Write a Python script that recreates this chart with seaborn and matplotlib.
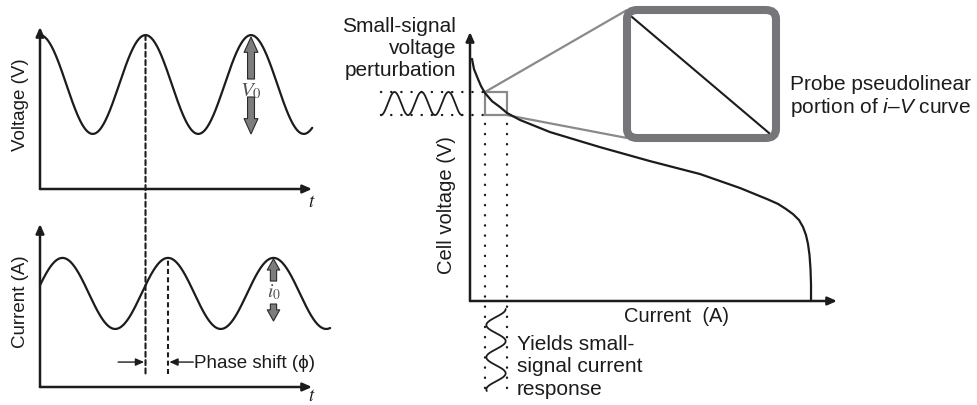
import numpy as np
import matplotlib
matplotlib.use("Agg")
import matplotlib.pyplot as plt
import seaborn as sns
from matplotlib.patches import Rectangle, FancyBboxPatch, ConnectionPatch

# ---------------- data (arbitrary units) ----------------
# Left panels: sinusoidal voltage perturbation and current response
cycle_period = 1.0                 # one cycle of the perturbation
voltage_time_span = [0.0, 2.58]
current_time_span = [0.0, 2.75]
voltage_offset = 0.645
voltage_amplitude = 0.305          # V0
current_offset = 0.574
current_amplitude = 0.218          # i0
phase_shift_cycles = 0.213         # current lags voltage
marked_cycle = 1.0                 # voltage peak used for the phase-shift marker
amplitude_cycle = 2.0              # peak where V0 / i0 arrows are drawn

# Right panel: polarisation (i-V) curve
iv_current = [0.0054, 0.0109, 0.0218, 0.0300, 0.0409, 0.0599, 0.0817, 0.1008,
              0.1362, 0.2180, 0.3542, 0.4905, 0.6267, 0.7357, 0.8093, 0.8392,
              0.8610, 0.8801, 0.8965, 0.9074, 0.9155, 0.9210, 0.9251, 0.9278,
              0.9292, 0.9292]
iv_voltage = [0.900, 0.862, 0.825, 0.799, 0.773, 0.743, 0.721, 0.699,
              0.673, 0.628, 0.572, 0.520, 0.472, 0.420, 0.379, 0.361,
              0.342, 0.323, 0.301, 0.275, 0.245, 0.212, 0.171, 0.119,
              0.063, 0.000]
probe_current = [0.0409, 0.1008]   # probed window (current)
probe_voltage = [0.691, 0.777]     # probed window (voltage)
perturb_cycles = 3
response_cycles = 2.55

# ---------------- layout ----------------
W, H, DPI = 977, 406, 100
INK = "#1c1c1c"
GRAY = "#8a8a8c"
BOXGRAY = "#76767a"

sns.set_theme(style="white")
plt.rcParams["font.family"] = ["Liberation Sans", "DejaVu Sans"]
plt.rcParams["mathtext.fontset"] = "custom"
plt.rcParams["mathtext.rm"] = "Liberation Sans"
plt.rcParams["mathtext.it"] = "Liberation Sans:italic"
plt.rcParams["mathtext.bf"] = "Liberation Sans:bold"
plt.rcParams["text.color"] = INK

fig = plt.figure(figsize=(W / DPI, H / DPI), dpi=DPI)
fig.patch.set_facecolor("white")


def pbox(x0, y0, x1, y1):
    return [x0 / W, 1 - y1 / H, (x1 - x0) / W, (y1 - y0) / H]


def fx(px):
    return px / W


def fy(py):
    return 1 - py / H


axV = fig.add_axes(pbox(40, 28, 312, 190))
axI = fig.add_axes(pbox(40, 225, 312, 388))
axC = fig.add_axes(pbox(470, 33, 837, 302))
axZ = fig.add_axes(pbox(627, 11, 776, 139))

T_AXIS = 2.578


def axis_arrows(ax):
    kw = dict(arrowstyle="-|>,head_length=0.45,head_width=0.2", color=INK,
              lw=1.8, shrinkA=0, shrinkB=0, mutation_scale=12)
    ax.annotate("", xy=(0, 1), xytext=(0, 0), xycoords="axes fraction",
                textcoords="axes fraction", arrowprops=kw)
    ax.annotate("", xy=(1, 0), xytext=(0, 0), xycoords="axes fraction",
                textcoords="axes fraction", arrowprops=kw)


# ---- voltage panel ----
t_v = np.linspace(voltage_time_span[0], voltage_time_span[1], 600)
v = voltage_offset + voltage_amplitude * np.cos(2 * np.pi * t_v / cycle_period)
sns.lineplot(x=t_v, y=v, ax=axV, color=INK, lw=1.6, estimator=None, sort=False,
             clip_on=False)
axV.set_xlim(0, T_AXIS)
axV.set_ylim(0, 1)
axV.axis("off")
axis_arrows(axV)

# ---- current panel ----
t_i = np.linspace(current_time_span[0], current_time_span[1], 600)
i = current_offset + current_amplitude * np.cos(
    2 * np.pi * (t_i / cycle_period - phase_shift_cycles))
sns.lineplot(x=t_i, y=i, ax=axI, color=INK, lw=1.6, estimator=None, sort=False,
             clip_on=False)
axI.set_xlim(0, T_AXIS)
axI.set_ylim(0, 1)
axI.axis("off")
axis_arrows(axI)

# phase-shift marker lines
v_peak = voltage_offset + voltage_amplitude
i_peak = current_offset + current_amplitude
v_trough = voltage_offset - voltage_amplitude
DASH = (0, (2.4, 1.6))
y_dash_end = 0.08
con = ConnectionPatch(xyA=(marked_cycle, v_peak), coordsA=axV.transData,
                      xyB=(marked_cycle, y_dash_end), coordsB=axI.transData,
                      color=INK, lw=1.5, linestyle=DASH)
fig.add_artist(con)
t_ipeak = marked_cycle + phase_shift_cycles
axI.vlines(t_ipeak, y_dash_end, i_peak, colors=INK, lw=1.5, linestyles=[DASH])

y_ph = 0.153
small_arrow = dict(arrowstyle="-|>,head_length=0.5,head_width=0.22", color=INK,
                   lw=1.0, shrinkA=0, shrinkB=1, mutation_scale=10)
axI.annotate("", xy=(marked_cycle, y_ph), xytext=(marked_cycle - 0.26, y_ph),
             arrowprops=small_arrow)
axI.annotate("", xy=(t_ipeak, y_ph), xytext=(t_ipeak + 0.24, y_ph),
             arrowprops=small_arrow)
axI.text(t_ipeak + 0.245, y_ph, "Phase shift (ϕ)", ha="left", va="center",
         fontsize=13.5, family=["Liberation Sans", "DejaVu Sans"])

# amplitude arrows
big_arrow = dict(arrowstyle="simple,head_length=1.1,head_width=1.0,tail_width=0.5",
                 fc="#7d7d7d", ec="#2a2a2a", lw=0.8, shrinkA=0, shrinkB=0,
                 mutation_scale=10)
axV.annotate("", xy=(amplitude_cycle, v_peak - 0.012),
             xytext=(amplitude_cycle, 0.679), arrowprops=big_arrow)
axV.annotate("", xy=(amplitude_cycle, v_trough),
             xytext=(amplitude_cycle, 0.568), arrowprops=big_arrow)
axV.text(amplitude_cycle, 0.612, r"$V_0$", math_fontfamily="stix", ha="center",
         va="center", fontsize=15, color="#505050")

mid_arrow = dict(arrowstyle="simple,head_length=0.8,head_width=0.9,tail_width=0.45",
                 fc="#7d7d7d", ec="#2a2a2a", lw=0.8, shrinkA=0, shrinkB=0,
                 mutation_scale=10)
t_i0 = amplitude_cycle + phase_shift_cycles
axI.annotate("", xy=(t_i0, i_peak - 0.006), xytext=(t_i0, 0.65),
             arrowprops=mid_arrow)
axI.annotate("", xy=(t_i0, 0.405), xytext=(t_i0, 0.509), arrowprops=mid_arrow)
axI.text(t_i0, 0.585, r"$i_0$", math_fontfamily="stix", ha="center",
         va="center", fontsize=14, color="#505050")

# left labels
fig.text(fx(21), fy(105), "Voltage (V)", rotation=90, ha="center", va="center",
         fontsize=13.5)
fig.text(fx(21), fy(302), "Current (A)", rotation=90, ha="center", va="center",
         fontsize=13.5)
fig.text(fx(312), fy(203), r"$t$", math_fontfamily="stix", ha="center",
         va="center", fontsize=13.5)
fig.text(fx(312), fy(397), r"$t$", math_fontfamily="stix", ha="center",
         va="center", fontsize=13.5)

# ---- i-V panel ----
sns.lineplot(x=iv_current, y=iv_voltage, ax=axC, color=INK, lw=1.6,
             estimator=None, sort=False)
axC.set_xlim(0, 1)
axC.set_ylim(0, 1)
axC.axis("off")
axis_arrows(axC)

DOT = (0, (0.1, 4.2))
pert_x0, pert_x1 = -0.2425, -0.0218
axC.hlines(probe_voltage, pert_x0, probe_current[0], colors=INK, lw=1.7,
           linestyles=[DOT], clip_on=False, capstyle="round")
resp_y0, resp_y1 = -0.0297, -0.3346
axC.vlines(probe_current, resp_y1 + 0.01, probe_voltage[0], colors=INK, lw=1.7,
           linestyles=[DOT], clip_on=False, capstyle="round")
axC.add_patch(Rectangle((probe_current[0], probe_voltage[0]),
                        probe_current[1] - probe_current[0],
                        probe_voltage[1] - probe_voltage[0],
                        fill=False, ec=GRAY, lw=1.6, clip_on=False))

# perturbation sketch (3 cycles between the window voltages)
v_mid = (probe_voltage[0] + probe_voltage[1]) / 2
v_half = (probe_voltage[1] - probe_voltage[0]) / 2
xp = np.linspace(pert_x0, pert_x1, 300)
yp = v_mid - v_half * np.cos(2 * np.pi * perturb_cycles * (xp - pert_x0) / (pert_x1 - pert_x0))
sns.lineplot(x=xp, y=yp, ax=axC, color=INK, lw=1.3, estimator=None, sort=False,
             clip_on=False)

# current response sketch
c_mid = (probe_current[0] + probe_current[1]) / 2
c_half = (probe_current[1] - probe_current[0]) / 2 * 0.88
yr = np.linspace(resp_y0, resp_y1, 300)
xr = c_mid + c_half * np.cos(2 * np.pi * response_cycles * (yr - resp_y0) / (resp_y1 - resp_y0))
sns.lineplot(x=xr, y=yr, ax=axC, color=INK, lw=1.3, estimator=None, sort=False,
             clip_on=False)

# connectors to magnified box
for a, b in [((probe_current[0], probe_voltage[1]), (0, 1)),
             ((probe_current[1], probe_voltage[0]), (0, 0))]:
    cp = ConnectionPatch(xyA=a, coordsA=axC.transData, xyB=b,
                         coordsB=axZ.transAxes, color=GRAY, lw=1.6)
    axC.add_artist(cp)

# ---- magnified box ----
axZ.add_patch(FancyBboxPatch((0, 0), 1, 1, boxstyle="round,pad=0,rounding_size=0.07",
                             transform=axZ.transAxes, fc="white", ec=BOXGRAY,
                             lw=5.8, clip_on=False, zorder=0))
ivc = np.array(iv_current)
ivv = np.array(iv_voltage)
inside = (ivc >= probe_current[0] - 1e-9) & (ivc <= probe_current[1] + 1e-9)
seg_c = [ivc[inside][0], ivc[inside][-1]]
seg_v = [ivv[inside][0], ivv[inside][-1]]
sns.lineplot(x=seg_c, y=seg_v, ax=axZ, color=INK, lw=1.5, estimator=None,
             sort=False)
xr_ = (seg_c[1] - seg_c[0]) / 0.919
yr_ = (seg_v[0] - seg_v[1]) / 0.906
axZ.set_xlim(seg_c[0] - 0.034 * xr_, seg_c[0] - 0.034 * xr_ + xr_)
axZ.set_ylim(seg_v[1] - 0.039 * yr_, seg_v[1] - 0.039 * yr_ + yr_)
axZ.axis("off")

# right texts
fig.text(fx(456), fy(49), "Small-signal\nvoltage\nperturbation", ha="right",
         va="center", multialignment="right", fontsize=15, linespacing=1.2)
fig.text(fx(790), fy(97), "Probe pseudolinear\nportion of $i$–$V$ curve",
         ha="left", va="center", fontsize=15, linespacing=1.12)
fig.text(fx(677), fy(317), "Current  (A)", ha="center", va="center", fontsize=14.5)
fig.text(fx(447), fy(205), "Cell voltage (V)", rotation=90, ha="center",
         va="center", fontsize=14.5)
fig.text(fx(517), fy(367), "Yields small-\nsignal current\nresponse", ha="left",
         va="center", fontsize=15, linespacing=1.25)

fig.savefig("out.png", dpi=DPI, facecolor="white")
